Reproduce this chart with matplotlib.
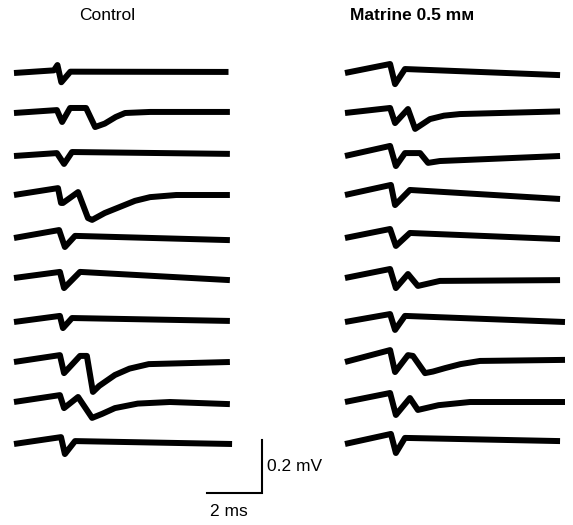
#!/usr/bin/env python3

import numpy as np
import matplotlib.pyplot as plt

# traces: time (ms from sweep start), voltage (mV from baseline)
control_t = [
    [0, 1.45, 1.58, 1.72, 2.05, 7.8],
    [0, 1.56, 1.75, 2.04, 2.62, 2.95, 3.3, 3.7, 4.04, 4.95, 7.85],
    [0, 1.56, 1.82, 2.11, 7.85],
    [0, 1.6, 1.71, 1.78, 2.33, 2.69, 2.84, 3.3, 3.85, 4.4, 4.95, 5.9, 7.85],
    [0, 1.64, 1.85, 2.22, 7.85],
    [0, 1.67, 1.82, 2.4, 7.85],
    [0, 1.67, 1.78, 2.11, 7.85],
    [0, 1.67, 1.82, 2.4, 2.65, 2.87, 3.1, 3.67, 4.2, 4.9, 7.85],
    [0, 1.67, 1.82, 2.33, 2.84, 3.2, 3.67, 4.5, 5.67, 7.85],
    [0, 1.71, 1.85, 2.22, 7.93],
]
control_v = [
    [0, 0.01, 0.03, -0.035, 0.005, 0.004],
    [0, 0.011, -0.034, 0.019, 0.019, -0.053, -0.04, -0.015, 0.0, 0.004, 0.004],
    [0, 0.011, -0.03, 0.015, 0.008],
    [0, 0.026, -0.03, -0.03, 0.011, -0.087, -0.094, -0.068, -0.045, -0.022, -0.008, 0, 0],
    [0, 0.03, -0.034, 0.008, -0.008],
    [0, 0.023, -0.038, 0.023, -0.008],
    [0, 0.023, -0.023, 0.015, 0.004],
    [0, 0.026, -0.042, 0.023, 0.023, -0.113, -0.09, -0.049, -0.025, -0.008, 0],
    [0, 0.026, -0.023, 0.019, -0.06, -0.045, -0.023, -0.006, 0, -0.008],
    [0, 0.026, -0.038, 0.011, 0],
]
matrine_t = [
    [0, 1.64, 1.82, 2.18, 7.82],
    [0, 1.64, 1.82, 2.29, 2.55, 3.09, 3.6, 4.18, 7.82],
    [0, 1.64, 1.85, 2.18, 2.73, 3.02, 3.45, 7.82],
    [0, 1.67, 1.82, 2.36, 7.82],
    [0, 1.64, 1.85, 2.36, 7.82],
    [0, 1.64, 1.85, 2.29, 2.65, 3.45, 7.82],
    [0, 1.64, 1.82, 2.18, 8.0],
    [0, 1.64, 1.82, 2.29, 2.47, 2.91, 3.2, 3.64, 4.2, 4.91, 8.0],
    [0, 1.64, 1.85, 2.36, 2.65, 3.4, 4.55, 8.0],
    [0, 1.67, 1.85, 2.18, 7.82],
]
matrine_v = [
    [0, 0.034, -0.042, 0.015, -0.008],
    [0, 0.019, -0.038, 0.015, -0.06, -0.023, -0.01, -0.004, 0.006],
    [0, 0.038, -0.038, 0.011, 0.011, -0.026, -0.019, 0],
    [0, 0.038, -0.038, 0.019, -0.015],
    [0, 0.034, -0.03, 0.019, -0.004],
    [0, 0.034, -0.038, 0.015, -0.03, -0.011, -0.008],
    [0, 0.03, -0.03, 0.023, 0],
    [0, 0.045, -0.038, 0.026, 0.023, -0.042, -0.036, -0.023, -0.008, 0.004, 0.008],
    [0, 0.034, -0.049, 0.015, -0.03, -0.012, 0, 0],
    [0, 0.038, -0.034, 0.023, 0.011],
]
titles = ["Control", "Matrine 0.5 m\u1d0d"]
bar_mv = 0.2
bar_ms = 2

PX_MS = 27.5   # pixels per ms
PX_MV = 265.0  # pixels per mV

# layout (pixels in the 573x525 picture)
row_px = np.array([73, 113, 156, 195, 238, 278, 322, 362, 402, 444])
col_px = [14, 345]


def px_x(p):
    return (p - col_px[0]) / PX_MS


def px_y(p):
    return -p / PX_MV


fig = plt.figure(figsize=(5.73, 5.25), dpi=100)
ax = fig.add_axes([0, 0, 1, 1])
ax.set_xlim(px_x(0), px_x(573))
ax.set_ylim(px_y(525), px_y(0))
ax.axis("off")

for c, (ts, vs) in enumerate([(control_t, control_v), (matrine_t, matrine_v)]):
    x0 = px_x(col_px[c])
    for r in range(len(ts)):
        t = np.array(ts[r]) + x0
        v = np.array(vs[r]) + px_y(row_px[r])
        ax.plot(t, v, color="black", lw=4.3, solid_joinstyle="round",
                solid_capstyle="butt")

fam = ["Liberation Sans", "DejaVu Sans"]

# scale bar
bx = px_x(262)
by = px_y(493)
ax.plot([bx - bar_ms, bx, bx], [by, by, by + bar_mv], color="black", lw=1.5,
        solid_joinstyle="miter")
ax.text(bx + 0.2, by + bar_mv / 2, "0.2 mV", fontsize=12.5, ha="left",
        va="center", family=fam)
ax.text(bx - bar_ms + 0.1, px_y(512), "2 ms", fontsize=12.5, ha="left",
        va="center", family=fam)

ax.text(px_x(107), px_y(16), titles[0], fontsize=12.5, ha="center", va="center",
        family=fam)
ax.text(px_x(412), px_y(16), titles[1], fontsize=12.5, ha="center", va="center",
        family=fam, fontweight="bold")

fig.savefig("out.png", dpi=100)
